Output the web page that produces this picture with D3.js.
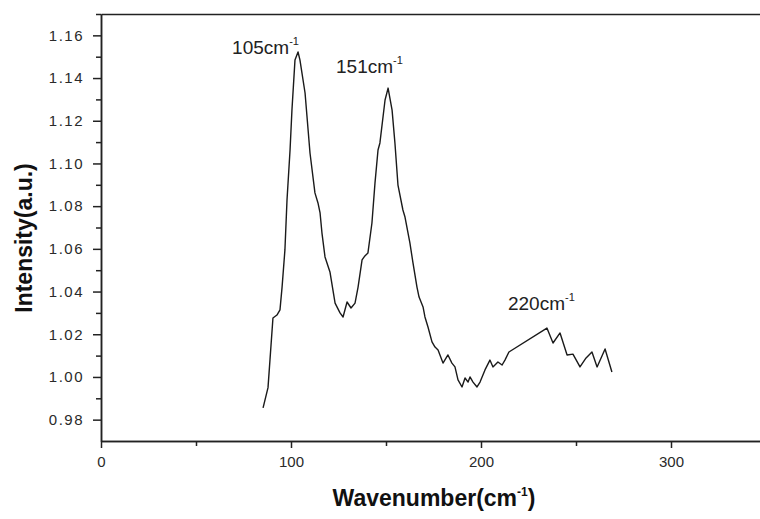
<!DOCTYPE html>
<html>
<head>
<meta charset="utf-8">
<script src="https://cdn.jsdelivr.net/npm/d3@7/dist/d3.min.js"></script>
<style>
body{margin:0;background:#fff;}
svg{display:block;font-family:"Liberation Sans",Arial,sans-serif;}
.axis path,.axis line{stroke:#222;stroke-width:1.5;}
.axis text{font-size:15px;fill:#2a2a2a;font-family:"Liberation Sans",Arial,sans-serif;}
.ytick text{letter-spacing:1.5px;}
.title{font-weight:bold;font-size:23px;fill:#111;}
.peak{font-size:19px;fill:#222;}
</style>
</head>
<body>
<div id="chart"></div>
<script>
/* Raman spectrum: intensity vs wavenumber */
var wavenumber=[85.3,87.9,90.5,92.6,94.2,95.3,96.8,97.9,99.5,100.5,102.1,103.7,104.7,107.4,110,112.6,114.2,115.3,116.3,117.9,
    120.5,123.2,125.8,127.4,129.5,131.6,133.7,135.3,137.4,138.9,140.5,142.6,144.2,145.8,146.8,149.5,151.1,153.2,154.7,156.3,
    158.9,160,162.6,164.2,166.3,167.4,169.5,170.5,172.1,174.2,175.8,177.4,180,182.6,184.7,186.3,187.9,190,191.6,193.2,
    194.2,195.8,197.9,199.5,202.1,204.7,206.3,208.9,211.1,212.6,214.7,234.7,237.9,241.6,245.3,248.4,252.1,255.3,258.4,261.1,
    265.3,268.9];
var intensity=[0.9855,0.995,1.0276,1.029,1.0314,1.0421,1.0595,1.0829,1.1063,1.125,1.1485,1.1522,1.1485,1.133,1.1049,1.0862,1.0815,1.0768,1.0674,1.0562,
    1.0492,1.0346,1.030,1.0281,1.0351,1.0323,1.0346,1.0421,1.0548,1.0567,1.0581,1.0721,1.0908,1.1063,1.1096,1.1297,1.1353,1.125,1.1096,1.0899,
    1.0782,1.0749,1.0627,1.0534,1.0421,1.0374,1.0328,1.0281,1.0234,1.0164,1.014,1.0126,1.0065,1.0103,1.0065,1.0047,0.9986,0.9953,0.9995,0.9976,
    1.000,0.9976,0.9953,0.9976,1.0033,1.0079,1.0047,1.007,1.0056,1.0079,1.0117,1.0229,1.0159,1.0206,1.0103,1.0107,1.0047,1.0089,1.0117,1.0047,
    1.0131,1.0023];

var xMajor=[0,100,200,300], xMinor=[50,150,250];
var yMajor=[0.98,1.00,1.02,1.04,1.06,1.08,1.10,1.12,1.14,1.16];
var yMinor=[0.99,1.01,1.03,1.05,1.07,1.09,1.11,1.13,1.15,1.17];

/* peak annotations, anchored in data units */
var peakNames=["105","151","220"];
var peakLabelX=[69,123.7,214.2];
var peakLabelY=[1.1513,1.1424,1.0314];

var W=760,H=519;
var svg=d3.select("#chart").append("svg").attr("width",W).attr("height",H);

var x=d3.scaleLinear().domain([0,350]).range([101,766]);
var y=d3.scaleLinear().domain([0.97,1.17]).range([441,14]);

/* top frame line */
svg.append("g").attr("class","axis").attr("transform","translate(0,14)")
    .call(d3.axisTop(x).tickValues([]).tickSizeOuter(0));

/* x axis: minor then major ticks */
svg.append("g").attr("class","axis").attr("transform","translate(0,441)")
    .call(d3.axisBottom(x).tickValues(xMinor).tickSize(5).tickSizeOuter(0).tickFormat(""));
svg.append("g").attr("class","axis").attr("transform","translate(0,441)")
    .call(d3.axisBottom(x).tickValues(xMajor).tickSize(7).tickSizeOuter(0).tickPadding(8).tickFormat(d3.format("d")));

/* y axis */
svg.append("g").attr("class","axis").attr("transform","translate(101,0)")
    .call(d3.axisLeft(y).tickValues(yMinor).tickSize(5).tickSizeOuter(0).tickFormat(""));
svg.append("g").attr("class","axis ytick").attr("transform","translate(101,0)")
    .call(d3.axisLeft(y).tickValues(yMajor).tickSize(8).tickSizeOuter(0).tickPadding(9).tickFormat(d3.format(".2f")));

/* spectrum */
var line=d3.line().x(function(d){return x(d[0]);}).y(function(d){return y(d[1]);});
svg.append("path").datum(d3.zip(wavenumber,intensity))
    .attr("d",line).attr("fill","none").attr("stroke","#1a1a1a").attr("stroke-width",1.4)
    .attr("stroke-linejoin","round");

/* peak labels with superscript -1 */
peakNames.forEach(function(n,i){
    var t=svg.append("text").attr("class","peak").attr("x",x(peakLabelX[i])).attr("y",y(peakLabelY[i]));
    t.append("tspan").text(n+"cm");
    t.append("tspan").attr("dy",-9).style("font-size","11px").text("-1");
});

/* axis titles */
var xt=svg.append("text").attr("class","title").attr("x",434).attr("y",506).attr("text-anchor","middle");
xt.append("tspan").text("Wavenumber(cm");
xt.append("tspan").attr("dy",-10).style("font-size","12px").text("-1");
xt.append("tspan").attr("dy",10).text(")");

svg.append("text").attr("class","title").attr("transform","translate(32,238) rotate(-90)")
    .attr("text-anchor","middle").text("Intensity(a.u.)");
</script>
</body>
</html>
